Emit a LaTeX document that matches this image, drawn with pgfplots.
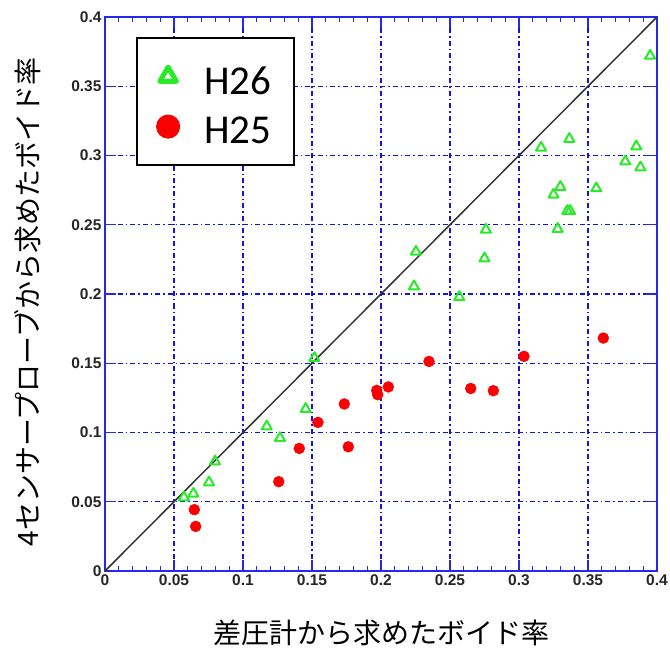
\documentclass[border=0pt]{standalone}
\usepackage{fontspec}
\usepackage{pgfplots}
\pgfplotsset{compat=1.18}
\setmainfont{Liberation Sans}
\newfontfamily\cjk{Noto Sans CJK JP}
\newfontfamily\leg{Carlito}
\definecolor{axblue}{RGB}{40,40,235}
\definecolor{gridblue}{RGB}{20,20,220}
\definecolor{mygreen}{RGB}{40,235,40}
\definecolor{myred}{RGB}{250,0,0}
\begin{document}
\begin{tikzpicture}
\begin{axis}[
  name=ax, at={(0,0)}, anchor=south west,
  scale only axis, width=552pt, height=554pt,
  xmin=0, xmax=0.4, ymin=0, ymax=0.4,
  xtick={0,0.05,0.1,0.15,0.2,0.25,0.3,0.35,0.4},
  ytick={0,0.05,0.1,0.15,0.2,0.25,0.3,0.35,0.4},
  xticklabels={\textbf{0},\textbf{0.05},\textbf{0.1},\textbf{0.15},\textbf{0.2},\textbf{0.25},\textbf{0.3},\textbf{0.35},\textbf{0.4}},
  yticklabels={\textbf{0},\textbf{0.05},\textbf{0.1},\textbf{0.15},\textbf{0.2},\textbf{0.25},\textbf{0.3},\textbf{0.35},\textbf{0.4}},
  minor x tick num=4,
  tick align=inside,
  major tick length=11pt, minor tick length=5pt,
  axis line style={axblue, line width=1.6pt},
  every tick/.style={axblue, line width=1.2pt},
  grid=major,
  major grid style={gridblue, line width=1.1pt, dash pattern=on 5pt off 3pt on 1.5pt off 3pt},
  tick label style={font=\fontsize{15.5}{16}\selectfont, text=black!85},
  xlabel={差圧計から求めたボイド率},
  ylabel={4センサープローブから求めたボイド率},
  label style={font=\cjk\fontsize{28}{28}\selectfont},
  xlabel style={at={(axis description cs:0.5,-0.1119)}, anchor=center},
  ylabel style={at={(axis description cs:-0.1395,0.4856)}, anchor=center},
  clip=false,
  legend cell align=left,
  legend image code/.code={\draw[line width=3pt,#1] plot coordinates {(0pt,0pt)}; \path[draw=none,fill=none] (-14pt,-14pt) rectangle (14pt,14pt);},
  legend style={at={(axis description cs:0.0562,0.9639)}, anchor=north west, draw=black, line width=2.2pt, fill=white, inner xsep=17pt, inner ysep=24.5pt, row sep=22pt, font=\leg\fontsize{41}{41}\selectfont, nodes={inner sep=0pt}},
]
\addplot[black!80, line width=1.5pt, forget plot] coordinates {(0,0) (0.4,0.4)};
\addplot[only marks, mark=triangle, mark size=5.8pt, mygreen, line width=2pt, mark options={line join=round}, forget plot] coordinates {
(0.395,0.372) (0.3365,0.312) (0.316,0.3056) (0.385,0.3066) (0.377,0.2957)
(0.388,0.2914) (0.330,0.2773) (0.325,0.2717) (0.356,0.2763) (0.335,0.260)
(0.337,0.260) (0.328,0.247) (0.276,0.2464) (0.275,0.2257) (0.2253,0.2305)
(0.2239,0.2055) (0.2567,0.1978) (0.1517,0.1538) (0.1454,0.117) (0.1172,0.1044)
(0.1268,0.096) (0.0797,0.0791) (0.0754,0.064) (0.064,0.0558) (0.0572,0.0531)
};
\addplot[only marks, mark=*, mark size=5.5pt, myred, forget plot] coordinates {
(0.1734,0.1206) (0.1543,0.1073) (0.1408,0.0885) (0.1763,0.0897) (0.1259,0.0645)
(0.0647,0.0443) (0.0657,0.0322) (0.3611,0.1682) (0.3036,0.155) (0.2348,0.1513)
(0.2053,0.1329) (0.1969,0.1304) (0.1976,0.1273) (0.265,0.1318) (0.2814,0.1302)
};
\addlegendimage{mark=triangle, mark size=9.5pt, mygreen, mark options={line width=5pt, line join=round}}
\addlegendentry{\hspace*{22pt}\raisebox{-9pt}{H26}\hspace*{6pt}}
\addlegendimage{mark=*, mark size=10.5pt, myred, line width=1pt}
\addlegendentry{\hspace*{22pt}\raisebox{-9pt}{H25}\hspace*{6pt}}
\end{axis}
\pgfresetboundingbox
\path (ax.south west) ++(-105pt,-79pt) rectangle ([shift={(13pt,17pt)}]ax.north east);
\end{tikzpicture}
\end{document}
